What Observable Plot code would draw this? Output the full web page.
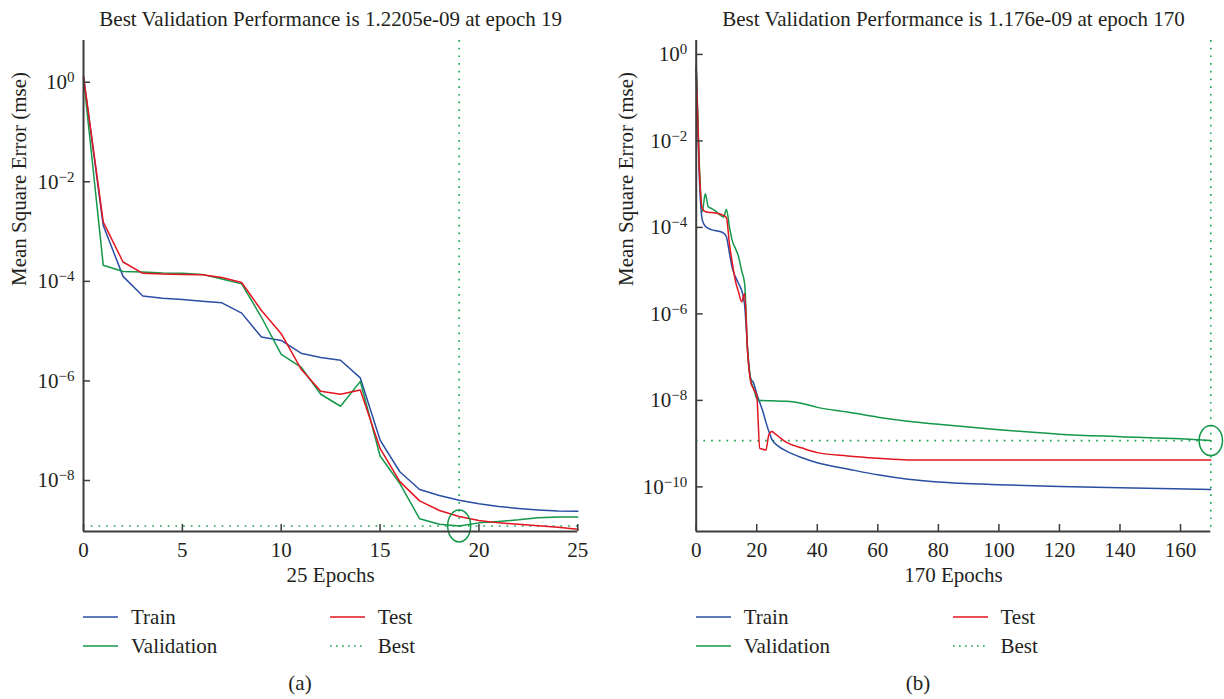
<!DOCTYPE html>
<html>
<head>
<meta charset="utf-8">
<script src="https://cdn.jsdelivr.net/npm/d3@7"></script>
<script src="https://cdn.jsdelivr.net/npm/@observablehq/plot@0.6"></script>
<style>
  html, body { margin: 0; padding: 0; background: #fff; }
  body { font-family: "Liberation Serif", "Times New Roman", serif; color: #231f20; }
  #wrap { position: relative; width: 1224px; height: 699px; overflow: hidden; background: #fff; }
  .panel { position: absolute; top: 0; }
  .lgtext { position: absolute; font-size: 21px; line-height: 24px; white-space: nowrap; color: #231f20; }
  .lgsample { position: absolute; }
  .cap { position: absolute; font-size: 21px; line-height: 24px; white-space: nowrap; transform: translateX(-50%); color: #231f20; }
</style>
</head>
<body>
<div id="wrap"></div>
<script>
// ---------- Panel (a): 25 epochs ----------
const epochsA = [0, 1, 2, 3, 4, 5, 6, 7, 8, 9, 10, 11, 12, 13, 14, 15, 16, 17, 18, 19, 20, 21, 22, 23, 24, 25];
const trainA = [1.29, 1.32e-3, 1.26e-4, 5.1e-5, 4.6e-5, 4.3e-5, 4.0e-5, 3.7e-5, 2.3e-5, 7.6e-6, 6.5e-6, 3.6e-6, 2.95e-6, 2.6e-6, 1.15e-6, 6.5e-8, 1.5e-8, 6.6e-9, 5.0e-9, 4.0e-9, 3.4e-9, 3.0e-9, 2.75e-9, 2.57e-9, 2.45e-9, 2.4e-9];
const validA = [1.2, 2.1e-4, 1.58e-4, 1.55e-4, 1.48e-4, 1.45e-4, 1.38e-4, 1.12e-4, 8.9e-5, 1.9e-5, 3.4e-6, 1.9e-6, 5.4e-7, 3.1e-7, 9.8e-7, 3.1e-8, 8.7e-9, 1.7e-9, 1.32e-9, 1.2205e-9, 1.41e-9, 1.51e-9, 1.62e-9, 1.78e-9, 1.86e-9, 1.86e-9];
const testA = [1.29, 1.55e-3, 2.45e-4, 1.45e-4, 1.41e-4, 1.38e-4, 1.35e-4, 1.2e-4, 9.5e-5, 2.6e-5, 8.9e-6, 1.74e-6, 6.2e-7, 5.4e-7, 6.6e-7, 4.4e-8, 9.5e-9, 3.9e-9, 2.5e-9, 1.9e-9, 1.58e-9, 1.41e-9, 1.32e-9, 1.23e-9, 1.15e-9, 1.05e-9];
const bestEpochA = 19;
const bestValueA = 1.2205e-9;
const xTicksA = [0, 5, 10, 15, 20, 25];
const yTicksA = [1e0, 1e-2, 1e-4, 1e-6, 1e-8];
const titleA = "Best Validation Performance is 1.2205e-09 at epoch 19";
const xLabelA = "25 Epochs";

// ---------- Panel (b): 170 epochs ----------
const trainEpochsB = [0, 1, 2, 3, 5, 7, 9, 10, 11, 12, 13, 14, 15, 16, 17, 18, 19, 20, 21, 22, 23, 24, 25, 27, 30, 35, 40, 50, 60, 70, 80, 100, 120, 140, 170];
const trainB = [0.47, 1.6e-3, 1.5e-4, 1.07e-4, 8.9e-5, 8.3e-5, 7.4e-5, 6.0e-5, 2.5e-5, 1.1e-5, 7.1e-6, 5.0e-6, 3.5e-6, 1.6e-6, 1.45e-7, 3.2e-8, 2.5e-8, 1.4e-8, 8.9e-9, 5.6e-9, 3.2e-9, 1.9e-9, 1.26e-9, 8.9e-10, 6.6e-10, 4.7e-10, 3.6e-10, 2.6e-10, 1.9e-10, 1.5e-10, 1.3e-10, 1.12e-10, 1.02e-10, 9.5e-11, 8.7e-11];
const validEpochsB = [0, 1, 2, 3, 4, 5, 6, 7, 8, 9, 10, 11, 12, 13, 14, 15, 16, 17, 18, 19, 20, 21, 25, 30, 35, 40, 50, 60, 70, 80, 100, 120, 140, 160, 170];
const validB = [0.62, 3.2e-3, 2.3e-4, 6.0e-4, 3.0e-4, 2.75e-4, 2.5e-4, 2.2e-4, 1.9e-4, 1.74e-4, 2.6e-4, 1.0e-4, 4.7e-5, 3.2e-5, 2.1e-5, 1.0e-5, 5.0e-6, 1.26e-7, 3.0e-8, 1.9e-8, 1.1e-8, 1.0e-8, 9.8e-9, 9.5e-9, 8.5e-9, 6.9e-9, 5.4e-9, 4.1e-9, 3.3e-9, 2.8e-9, 2.1e-9, 1.66e-9, 1.45e-9, 1.29e-9, 1.176e-9];
const testEpochsB = [0, 1, 2, 3, 5, 7, 9, 10, 11, 12, 13, 14, 15, 16, 17, 18, 19, 20, 21, 22, 23, 24, 25, 26, 28, 30, 35, 40, 50, 60, 70, 100, 140, 170];
const testB = [0.47, 2.5e-3, 2.75e-4, 2.3e-4, 2.2e-4, 2.1e-4, 1.9e-4, 1.66e-4, 4.0e-5, 1.4e-5, 5.6e-6, 3.2e-6, 1.9e-6, 2.95e-6, 1.26e-7, 2.7e-8, 1.8e-8, 1.3e-8, 7.8e-10, 7.4e-10, 7.1e-10, 1.6e-9, 1.9e-9, 1.7e-9, 1.32e-9, 1.05e-9, 7.9e-10, 6.2e-10, 5.2e-10, 4.6e-10, 4.2e-10, 4.2e-10, 4.2e-10, 4.2e-10];
const bestEpochB = 170;
const bestValueB = 1.176e-9;
const xTicksB = [0, 20, 40, 60, 80, 100, 120, 140, 160];
const yTicksB = [1e0, 1e-2, 1e-4, 1e-6, 1e-8, 1e-10];
const titleB = "Best Validation Performance is 1.176e-09 at epoch 170";
const xLabelB = "170 Epochs";

const yLabel = "Mean Square Error (mse)";
const seriesNames = ["Train", "Validation", "Test", "Best"];

// ---------- styles ----------
const TRAIN = "#2a4ea3";
const VALID = "#14974a";
const TEST = "#e3141f";
const BEST = "#1fa652";
const AXIS = "#3c3c3c";
const INK = "#231f20";
const FONT = "'Liberation Serif', 'Times New Roman', serif";

function ellipseSymbol(rx, ry) {
  const k = 0.5523;
  return {
    draw(ctx) {
      ctx.moveTo(rx, 0);
      ctx.bezierCurveTo(rx, ry * k, rx * k, ry, 0, ry);
      ctx.bezierCurveTo(-rx * k, ry, -rx, ry * k, -rx, 0);
      ctx.bezierCurveTo(-rx, -ry * k, -rx * k, -ry, 0, -ry);
      ctx.bezierCurveTo(rx * k, -ry, rx, -ry * k, rx, 0);
      ctx.closePath();
    }
  };
}

function rowsOf(xs, ys) { return xs.map((x, i) => ({x, y: ys[i]})); }

function makeChart(o) {
  const svg = Plot.plot({
    width: o.width,
    height: 600,
    marginLeft: o.marginLeft,
    marginRight: o.marginRight,
    marginTop: 40,
    marginBottom: 69,
    style: {fontFamily: FONT, fontSize: "20px", color: INK, background: "transparent", overflow: "visible"},
    x: {domain: o.xDomain},
    y: {type: "log", domain: o.yDomain},
    marks: [
      Plot.ruleX([o.bestEpoch], {stroke: BEST, strokeWidth: 1.7, strokeDasharray: "1.7,6"}),
      Plot.ruleY([o.bestValue], {stroke: BEST, strokeWidth: 1.7, strokeDasharray: "1.7,6"}),
      Plot.line(rowsOf(o.trainX, o.train), {x: "x", y: "y", stroke: TRAIN, strokeWidth: 1.5, curve: o.curve}),
      Plot.line(rowsOf(o.validX, o.valid), {x: "x", y: "y", stroke: VALID, strokeWidth: 1.5, curve: o.curve}),
      Plot.line(rowsOf(o.testX, o.test), {x: "x", y: "y", stroke: TEST, strokeWidth: 1.5, curve: o.curve}),
      Plot.dot([{x: o.bestEpoch, y: o.bestValue}], {x: "x", y: "y", r: 12, symbol: o.ellipse, stroke: VALID, fill: "none", strokeWidth: 1.5}),
      Plot.ruleX([o.xDomain[0]], {stroke: AXIS, strokeWidth: 2}),
      Plot.ruleY([o.yDomain[0]], {stroke: AXIS, strokeWidth: 2}),
      Plot.axisX({ticks: o.xTicks, tickSize: -7, tickPadding: 18, tickFormat: d => String(d), label: null, stroke: AXIS, strokeWidth: 1.5, fontSize: 21, fontFamily: FONT, fill: INK}),
      Plot.axisY({ticks: o.yTicks, tickSize: -7, tickPadding: 16, tickFormat: d => "10^" + Math.round(Math.log10(d)), label: null, stroke: AXIS, strokeWidth: 1.5, fontSize: 21, fontFamily: FONT, fill: INK}),
      Plot.text([o.title], {frameAnchor: "top", dy: -15, lineAnchor: "bottom", fontSize: 21, fontFamily: FONT, fill: INK}),
      Plot.text([o.xLabel], {frameAnchor: "bottom", dy: 44, lineAnchor: "middle", fontSize: 21, fontFamily: FONT, fill: INK}),
      Plot.text([yLabel], {frameAnchor: "left", dx: o.yLabelDx, rotate: -90, lineAnchor: "middle", fontSize: 21, fontFamily: FONT, fill: INK})
    ]
  });
  // superscript exponents on the log axis tick labels
  const NS = "http://www.w3.org/2000/svg";
  svg.querySelectorAll('g[aria-label="y-axis tick label"] text').forEach(t => {
    const parts = t.textContent.split("^");
    if (parts.length !== 2) return;
    t.textContent = "";
    const base = document.createElementNS(NS, "tspan");
    base.textContent = parts[0];
    const sup = document.createElementNS(NS, "tspan");
    sup.textContent = parts[1].replace("-", "\u2212");
    sup.setAttribute("dy", "-0.45em");
    sup.setAttribute("font-size", "15");
    t.appendChild(base);
    t.appendChild(sup);
  });
  return svg;
}

const wrap = document.getElementById("wrap");

function addPanel(left, svg) {
  const d = document.createElement("div");
  d.className = "panel";
  d.style.left = left + "px";
  d.appendChild(svg);
  wrap.appendChild(d);
}

function addLegend(plotLeft, plotWidth) {
  const items = [
    {name: seriesNames[0], color: TRAIN, col: 0, row: 0, dash: null},
    {name: seriesNames[2], color: TEST, col: 1, row: 0, dash: null},
    {name: seriesNames[1], color: VALID, col: 0, row: 1, dash: null},
    {name: seriesNames[3], color: BEST, col: 1, row: 1, dash: "1.7,4.3"}
  ];
  const rowsY = [617, 646];
  items.forEach(it => {
    const x0 = plotLeft + (it.col ? plotWidth / 2 - 0.5 : 0);
    const cy = rowsY[it.row];
    const s = document.createElementNS("http://www.w3.org/2000/svg", "svg");
    s.setAttribute("width", 36);
    s.setAttribute("height", 6);
    s.setAttribute("class", "lgsample");
    s.style.left = x0 + "px";
    s.style.top = (cy - 3) + "px";
    const l = document.createElementNS("http://www.w3.org/2000/svg", "line");
    l.setAttribute("x1", 0); l.setAttribute("x2", 35);
    l.setAttribute("y1", 3); l.setAttribute("y2", 3);
    l.setAttribute("stroke", it.color);
    l.setAttribute("stroke-width", it.dash ? 1.7 : 1.6);
    if (it.dash) l.setAttribute("stroke-dasharray", it.dash);
    s.appendChild(l);
    wrap.appendChild(s);
    const t = document.createElement("div");
    t.className = "lgtext";
    t.textContent = it.name;
    t.style.left = (x0 + 48) + "px";
    t.style.top = (cy - 12) + "px";
    wrap.appendChild(t);
  });
}

function addCaption(text, cx, cy) {
  const c = document.createElement("div");
  c.className = "cap";
  c.textContent = text;
  c.style.left = cx + "px";
  c.style.top = (cy - 12) + "px";
  wrap.appendChild(c);
}

// Panel (a)
addPanel(0, makeChart({
  width: 612, marginLeft: 83, marginRight: 34.7,
  xDomain: [0, 25], yDomain: [9.46e-10, 6.88],
  xTicks: xTicksA, yTicks: yTicksA,
  trainX: epochsA, train: trainA, validX: epochsA, valid: validA, testX: epochsA, test: testA,
  bestEpoch: bestEpochA, bestValue: bestValueA,
  title: titleA, xLabel: xLabelA, yLabelDx: -64,
  curve: "linear", ellipse: ellipseSymbol(11.5, 16)
}));

// Panel (b)
addPanel(612, makeChart({
  width: 612, marginLeft: 83.7, marginRight: 13.7,
  xDomain: [0, 170], yDomain: [9.3e-12, 2.1],
  xTicks: xTicksB, yTicks: yTicksB,
  trainX: trainEpochsB, train: trainB, validX: validEpochsB, valid: validB, testX: testEpochsB, test: testB,
  bestEpoch: bestEpochB, bestValue: bestValueB,
  title: titleB, xLabel: xLabelB, yLabelDx: -70,
  curve: "monotone-x", ellipse: ellipseSymbol(11.7, 15)
}));

addLegend(83, 494.3);
addLegend(695.7, 514.6);
addCaption("(a)", 300, 683);
addCaption("(b)", 918, 683);
</script>
</body>
</html>
